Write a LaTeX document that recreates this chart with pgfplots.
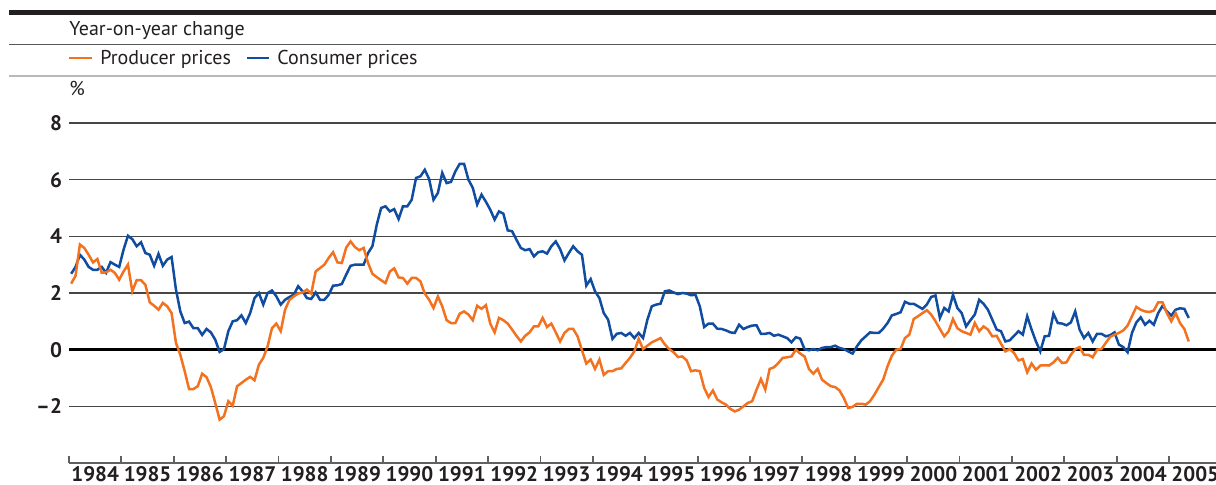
\documentclass[border=0pt]{standalone}
\usepackage{pgfplots}
\pgfplotsset{compat=1.18}
\usepackage{pgfplotstable}
\usepackage{fontspec}
\setmainfont{PT Sans}

\definecolor{ppi}{HTML}{F3721F}
\definecolor{cpi}{HTML}{104CA0}
\definecolor{ink}{HTML}{231F20}

% month index (0 = Jan 1984), consumer prices, producer prices; one year per line
\pgfplotstableread[row sep=\\]{
m cpi ppi\\
0 2.68 2.33\\ 1 2.92 2.61\\ 2 3.35 3.71\\ 3 3.18 3.59\\ 4 2.92 3.35\\ 5 2.82 3.08\\ 6 2.82 3.20\\ 7 2.92 2.71\\ 8 2.71 2.73\\ 9 3.09 2.82\\ 10 3.00 2.71\\ 11 2.92 2.47\\
12 3.53 2.76\\ 13 4.02 3.00\\ 14 3.90 2.06\\ 15 3.65 2.45\\ 16 3.79 2.45\\ 17 3.41 2.29\\ 18 3.35 1.67\\ 19 2.96 1.55\\ 20 3.38 1.41\\ 21 2.96 1.65\\ 22 3.18 1.53\\ 23 3.27 1.29\\
24 2.12 0.24\\ 25 1.35 -0.18\\ 26 0.94 -0.76\\ 27 0.99 -1.39\\ 28 0.76 -1.39\\ 29 0.76 -1.29\\ 30 0.52 -0.85\\ 31 0.73 -0.97\\ 32 0.61 -1.32\\ 33 0.35 -1.88\\ 34 -0.08 -2.47\\ 35 0.02 -2.35\\
36 0.65 -1.82\\ 37 1.00 -1.98\\ 38 1.04 -1.29\\ 39 1.21 -1.18\\ 40 0.94 -1.06\\ 41 1.29 -0.96\\ 42 1.82 -1.08\\ 43 2.00 -0.53\\ 44 1.59 -0.29\\ 45 2.00 0.12\\ 46 2.09 0.76\\ 47 1.88 0.92\\
48 1.59 0.65\\ 49 1.76 1.41\\ 50 1.86 1.76\\ 51 1.94 1.88\\ 52 2.24 1.98\\ 53 2.06 2.02\\ 54 1.82 2.12\\ 55 1.79 1.98\\ 56 2.02 2.76\\ 57 1.76 2.88\\ 58 1.76 3.00\\ 59 1.94 3.24\\
60 2.26 3.44\\ 61 2.27 3.08\\ 62 2.32 3.06\\ 63 2.65 3.60\\ 64 2.96 3.82\\ 65 3.00 3.62\\ 66 3.00 3.51\\ 67 3.00 3.59\\ 68 3.41 3.06\\ 69 3.65 2.68\\ 70 4.41 2.56\\ 71 5.00 2.45\\
72 5.06 2.35\\ 73 4.88 2.76\\ 74 4.96 2.87\\ 75 4.61 2.55\\ 76 5.06 2.53\\ 77 5.06 2.33\\ 78 5.29 2.53\\ 79 6.06 2.53\\ 80 6.12 2.41\\ 81 6.35 1.98\\ 82 6.02 1.76\\ 83 5.29 1.47\\
84 5.53 1.88\\ 85 6.24 1.53\\ 86 5.88 1.04\\ 87 5.92 0.94\\ 88 6.29 0.94\\ 89 6.56 1.27\\ 90 6.56 1.35\\ 91 6.00 1.24\\ 92 5.71 1.04\\ 93 5.12 1.55\\ 94 5.47 1.44\\ 95 5.22 1.57\\
96 4.94 0.92\\ 97 4.59 0.61\\ 98 4.88 1.12\\ 99 4.80 1.04\\ 100 4.21 0.92\\ 101 4.18 0.71\\ 102 3.88 0.49\\ 103 3.59 0.29\\ 104 3.51 0.49\\ 105 3.55 0.61\\ 106 3.29 0.82\\ 107 3.44 0.82\\
108 3.47 1.12\\ 109 3.39 0.80\\ 110 3.65 0.92\\ 111 3.82 0.61\\ 112 3.55 0.29\\ 113 3.15 0.59\\ 114 3.41 0.73\\ 115 3.65 0.73\\ 116 3.47 0.47\\ 117 3.35 -0.02\\ 118 2.26 -0.49\\ 119 2.49 -0.35\\
120 2.06 -0.68\\ 121 1.82 -0.35\\ 122 1.29 -0.89\\ 123 1.06 -0.76\\ 124 0.38 -0.76\\ 125 0.56 -0.68\\ 126 0.59 -0.66\\ 127 0.49 -0.47\\ 128 0.59 -0.29\\ 129 0.41 -0.06\\ 130 0.59 0.38\\ 131 0.41 0.02\\
132 1.06 0.14\\ 133 1.53 0.26\\ 134 1.59 0.33\\ 135 1.62 0.41\\ 136 2.06 0.18\\ 137 2.09 0.02\\ 138 2.02 -0.09\\ 139 1.96 -0.26\\ 140 2.00 -0.24\\ 141 1.98 -0.38\\ 142 1.92 -0.76\\ 143 1.94 -0.73\\
144 1.53 -0.76\\ 145 0.80 -1.35\\ 146 0.92 -1.67\\ 147 0.92 -1.44\\ 148 0.74 -1.76\\ 149 0.73 -1.86\\ 150 0.68 -1.94\\ 151 0.61 -2.09\\ 152 0.59 -2.18\\ 153 0.88 -2.12\\ 154 0.73 -2.00\\ 155 0.80 -1.88\\
156 0.85 -1.82\\ 157 0.86 -1.41\\ 158 0.56 -1.04\\ 159 0.56 -1.41\\ 160 0.59 -0.68\\ 161 0.49 -0.62\\ 162 0.53 -0.47\\ 163 0.47 -0.29\\ 164 0.41 -0.27\\ 165 0.26 -0.24\\ 166 0.44 0.00\\ 167 0.39 -0.14\\
168 0.02 -0.24\\ 169 -0.02 -0.68\\ 170 0.02 -0.85\\ 171 -0.02 -0.68\\ 172 0.06 -1.06\\ 173 0.09 -1.18\\ 174 0.09 -1.29\\ 175 0.14 -1.32\\ 176 0.06 -1.44\\ 177 0.02 -1.71\\ 178 -0.06 -2.06\\ 179 -0.14 -2.02\\
180 0.12 -1.91\\ 181 0.33 -1.91\\ 182 0.47 -1.94\\ 183 0.61 -1.82\\ 184 0.59 -1.59\\ 185 0.59 -1.32\\ 186 0.74 -1.06\\ 187 0.94 -0.59\\ 188 1.21 -0.21\\ 189 1.26 0.00\\ 190 1.32 0.02\\ 191 1.69 0.41\\
192 1.62 0.53\\ 193 1.62 1.08\\ 194 1.53 1.18\\ 195 1.44 1.29\\ 196 1.59 1.39\\ 197 1.86 1.24\\ 198 1.91 1.00\\ 199 1.12 0.73\\ 200 1.47 0.47\\ 201 1.35 0.65\\ 202 1.94 1.08\\ 203 1.47 0.76\\
204 1.29 0.65\\ 205 0.82 0.59\\ 206 1.04 0.53\\ 207 1.24 0.94\\ 208 1.76 0.65\\ 209 1.62 0.82\\ 210 1.41 0.71\\ 211 1.06 0.47\\ 212 0.71 0.49\\ 213 0.65 0.21\\ 214 0.29 -0.06\\ 215 0.33 0.02\\
216 0.49 -0.12\\ 217 0.65 -0.38\\ 218 0.53 -0.33\\ 219 1.18 -0.80\\ 220 0.71 -0.49\\ 221 0.29 -0.71\\ 222 -0.06 -0.56\\ 223 0.47 -0.55\\ 224 0.49 -0.56\\ 225 1.27 -0.45\\ 226 0.94 -0.29\\ 227 0.92 -0.47\\
228 0.86 -0.45\\ 229 0.96 -0.18\\ 230 1.35 0.02\\ 231 0.71 0.09\\ 232 0.41 -0.18\\ 233 0.59 -0.18\\ 234 0.29 -0.27\\ 235 0.56 0.00\\ 236 0.56 0.02\\ 237 0.47 0.24\\ 238 0.51 0.45\\ 239 0.61 0.53\\
240 0.18 0.59\\ 241 0.09 0.68\\ 242 -0.09 0.85\\ 243 0.59 1.18\\ 244 0.96 1.51\\ 245 1.14 1.41\\ 246 0.88 1.35\\ 247 1.02 1.33\\ 248 0.88 1.38\\ 249 1.29 1.67\\ 250 1.55 1.67\\ 251 1.35 1.29\\
252 1.20 1.00\\ 253 1.41 1.29\\ 254 1.46 0.94\\ 255 1.44 0.73\\ 256 1.12 0.29\\
}\prices

\begin{document}
\begin{tikzpicture}
\begin{axis}[
  at={(0,0)}, anchor=south west,
  scale only axis, width=573.5pt, height=170pt,
  xmin=0, xmax=262.75, ymin=-4, ymax=8,
  axis x line*=bottom, axis y line*=left,
  x axis line style={-, draw=gray!75!black, line width=1pt},
  y axis line style={draw=none},
  ytick={-2,2,4,6,8}, yticklabels={–2,2,4,6,8},
  extra y ticks={0}, extra y tick labels={0},
  extra y tick style={ymajorgrids=true, major grid style={draw=black, line width=1.3pt}},
  ymajorgrids, major grid style={draw=gray!55!black, line width=0.65pt},
  xtick={6,18,...,258},
  xticklabels={1984,1985,1986,1987,1988,1989,1990,1991,1992,1993,1994,1995,1996,1997,1998,1999,2000,2001,2002,2003,2004,2005},
  minor xtick={0,12,...,252},
  tick align=inside, major tick length=0pt, minor tick length=3.6pt,
  minor x tick style={draw=gray!75!black, line width=0.9pt},
  tick label style={font=\bfseries\fontsize{10.5}{12}\selectfont, text=ink},
  xticklabel style={inner sep=0.8pt, yshift=-0.8pt},
]
\addplot[cpi, line width=1.25pt] table[x expr=\thisrow{m}+0.5, y=cpi]{\prices};
\addplot[ppi, line width=1.25pt] table[x expr=\thisrow{m}+0.5, y=ppi]{\prices};
\end{axis}
% header, legend and rules, placed in image pixels (origin at top left)
\begin{scope}[xshift=-34.5pt, yshift=231.5pt, x=0.5pt, y=-0.5pt]
  \fill[ink] (9,10) rectangle (1216,15);
  \node[anchor=base west, inner sep=0pt, text=ink, font=\fontsize{10}{12}\selectfont] at (69,35.5) {Year-on-year change};
  \draw[gray!70!black, line width=0.5pt] (9,44.3) -- (1216,44.3);
  \draw[ppi, line width=1.25pt] (69,58) -- (92,58);
  \node[anchor=base west, inner sep=0pt, text=ink, font=\fontsize{10}{12}\selectfont] at (100,65) {Producer prices};
  \draw[cpi, line width=1.25pt] (247,58) -- (269,58);
  \node[anchor=base west, inner sep=0pt, text=ink, font=\fontsize{10}{12}\selectfont] at (277,65) {Consumer prices};
  \draw[gray!55, line width=1.1pt] (9,76) -- (1216,76);
  \node[anchor=base west, inner sep=0pt, text=ink, font=\fontsize{10}{12}\selectfont] at (69,96) {\%};
  \pgfresetboundingbox
  \useasboundingbox (0,0) rectangle (1216,485);
\end{scope}
\end{tikzpicture}
\end{document}
